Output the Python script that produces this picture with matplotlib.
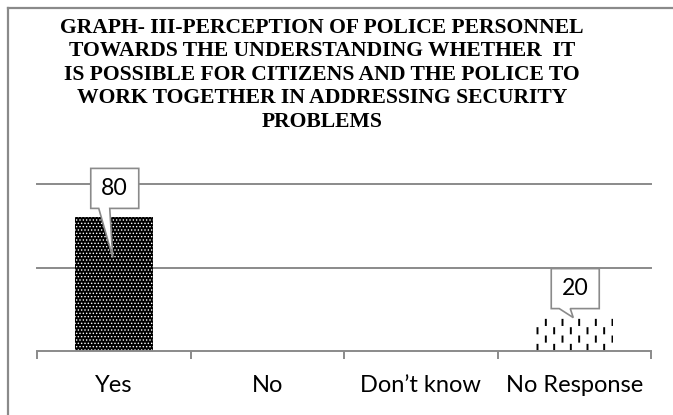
import numpy as np
import matplotlib
matplotlib.use("Agg")
import matplotlib.pyplot as plt
from matplotlib import hatch as mhatch
from matplotlib import transforms
from matplotlib.patches import Polygon
from matplotlib.lines import Line2D
from matplotlib.path import Path

# ---- data ----
categories = ["Yes", "No", "Don\u2019t know", "No Response"]
values = [80, 0, 0, 20]
y_gridlines = [50, 100]
title = ("GRAPH- III-PERCEPTION OF POLICE PERSONNEL\n"
         "TOWARDS THE UNDERSTANDING WHETHER  IT\n"
         "IS POSSIBLE FOR CITIZENS AND THE POLICE TO\n"
         "WORK TOGETHER IN ADDRESSING SECURITY\n"
         "PROBLEMS")


# Staggered short vertical dashes, used in place of the plain '|' hatch.
class DashedVertical(mhatch.HatchPatternBase):
    def __init__(self, hatch, density):
        self.n = hatch.count('|') * density
        self.n += self.n % 2
        self.num_vertices = (self.n * self.n // 2) * 2 if self.n else 0

    def set_vertices_and_codes(self, vertices, codes):
        n = self.n
        step = 1.0 / n
        dash = step * 0.62
        k = 0
        for r in range(n):
            for c in range(n):
                if (r + c) % 2:
                    continue
                x = (c + 0.5) * step
                y0 = r * step
                vertices[k] = (x, y0)
                vertices[k + 1] = (x, y0 + dash)
                codes[k] = Path.MOVETO
                codes[k + 1] = Path.LINETO
                k += 2


mhatch._hatch_types = [DashedVertical if h is mhatch.VerticalHatch else h
                       for h in mhatch._hatch_types]

GREY = "#8a8a8a"
W, H = 673, 415
fig = plt.figure(figsize=(W / 100, H / 100), dpi=100)

# chart frame (left and top edges)
fig.add_artist(Line2D([7.5 / W, 7.5 / W], [0, 1 - 8.5 / H],
                      transform=fig.transFigure, color=GREY, lw=1.6))
fig.add_artist(Line2D([7.5 / W, 1], [1 - 8.5 / H, 1 - 8.5 / H],
                      transform=fig.transFigure, color=GREY, lw=1.6))

fig.text(322 / W, 1 - 18 / H, title, ha="center", va="top",
         family="Liberation Serif", fontweight="bold", fontsize=15.6,
         linespacing=1.23)

ax = fig.add_axes([37 / W, (H - 351) / H, (651 - 37) / W, (351 - 184) / H])
x = np.arange(len(categories))
ax.set_xlim(-0.5, len(categories) - 0.5)
ax.set_ylim(0, 100)

for g in y_gridlines:
    ax.axhline(g, color=GREY, lw=1.4, clip_on=False, zorder=0)

styles = [
    dict(facecolor="black", edgecolor="white", hatch=".....", hlw=0.6),
    dict(facecolor="white", edgecolor="black", hatch="||", hlw=1.4),
    dict(facecolor="white", edgecolor="black", hatch="||", hlw=1.4),
    dict(facecolor="white", edgecolor="black", hatch="||", hlw=1.4),
]
for xi, v, st in zip(x, values, styles):
    if v > 0:
        st = dict(st)
        hlw = st.pop("hlw")
        with plt.rc_context({"hatch.linewidth": hlw}):
            bars = ax.bar(xi, v, width=0.51, linewidth=0, zorder=2, **st)
        for b in bars:
            if hasattr(b, "set_hatch_linewidth"):
                b.set_hatch_linewidth(hlw)

for side in ("left", "right", "top"):
    ax.spines[side].set_visible(False)
ax.spines["bottom"].set_color(GREY)
ax.spines["bottom"].set_linewidth(1.4)
ax.set_yticks([])

ax.set_xticks(x)
ax.set_xticklabels(categories, family="Lato", fontsize=17)
ax.tick_params(axis="x", which="major", length=0, pad=17.5)
ax.set_xticks(np.arange(len(categories) + 1) - 0.5, minor=True)
ax.tick_params(axis="x", which="minor", length=5.5, width=1.4,
               color=GREY, direction="out")


# value callouts: box above the bar top with a pointer down into the bar
def callout(xc, v, text, drop_px):
    bw, bh = 48, 40
    gap = 9
    # coordinates in pixels relative to the bar-top point
    cx, by = 1, gap
    pts = [(cx - bw / 2, by), (cx - 16, by), (-1, -drop_px), (cx - 5, by),
           (cx + bw / 2, by), (cx + bw / 2, by + bh), (cx - bw / 2, by + bh)]
    trans = fig.dpi_scale_trans + transforms.ScaledTranslation(xc, v, ax.transData)
    poly = Polygon(np.array(pts) / 100.0, closed=True, transform=trans,
                   facecolor="white", edgecolor=GREY, lw=1.2, zorder=5,
                   clip_on=False)
    ax.add_patch(poly)
    ax.text(cx / 100.0, (by + bh / 2) / 100.0, text, transform=trans,
            ha="center", va="center", family="Lato", fontsize=16.6, zorder=6)


tip_drop = {0: 40, 3: 0}
for xi, v in zip(x, values):
    if v > 0:
        callout(xi, v, f"{v}", tip_drop[xi])

fig.savefig("out.png", dpi=100)
